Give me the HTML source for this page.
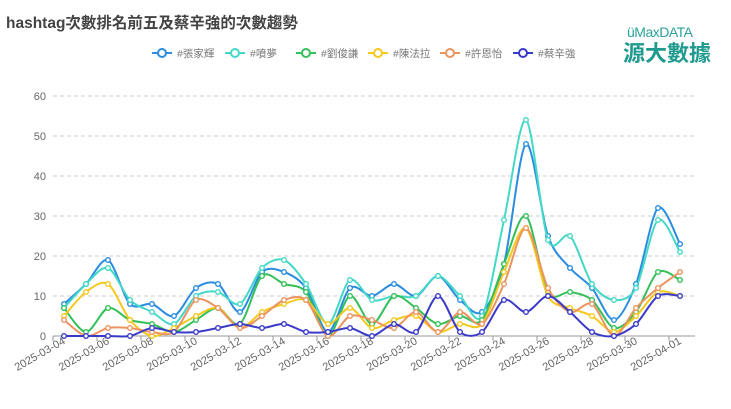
<!DOCTYPE html>
<html><head><meta charset="utf-8"><style>
body{margin:0;background:#fff;}
svg{display:block;font-family:"Liberation Sans","Noto Sans CJK TC",sans-serif;}
</style></head><body>
<svg id="s" width="731" height="409" xmlns="http://www.w3.org/2000/svg">
<rect width="731" height="409" fill="#fff"/>
<text x="6" y="28" font-size="15.5" font-weight="bold" fill="#444">hashtag次數排名前五及蔡辛強的次數趨勢</text>
<text x="627" y="37" font-size="14" fill="#2aa39a" letter-spacing="-0.5">üMaxDATA</text>
<text x="623" y="61" font-size="22" font-weight="bold" fill="#1f9a8f" font-family="'Noto Sans CJK TC',sans-serif">源大數據</text>
<g id="g"></g>
</svg>
<script>
const g=document.getElementById('g');
let h='';
for(let k=0;k<=6;k++){const y=336-40*k;
 if(k>0)h+=`<line x1="53" x2="695" y1="${y}" y2="${y}" stroke="#ccc" stroke-dasharray="4,3"/>`;
 h+=`<text x="46" y="${y+4}" font-size="11" fill="#666" text-anchor="end">${k*10}</text>`;}
h+=`<line x1="53" x2="695" y1="336" y2="336" stroke="#999"/>`;
const dates=[];
for(let i=0;i<29;i++){const d=new Date(2025,2,4+i);dates.push(`2025-${String(d.getMonth()+1).padStart(2,'0')}-${String(d.getDate()).padStart(2,'0')}`);}
for(let i=0;i<29;i+=2){const tx=53+22*i;h+=`<line x1="${tx}" x2="${tx}" y1="336" y2="341" stroke="#999"/>`;
 const x=64+22*i;h+=`<text transform="translate(${x+2},343) rotate(-30)" font-size="11" fill="#666" text-anchor="end">${dates[i]}</text>`;}
const S=[
['#張家輝','#2a8de0',[8,13,19,8,8,5,12,13,6,16,16,12,1,12,10,13,10,15,9,6,18,48,25,17,12,4,13,32,23]],
['#噴夢','#45d8c8',[7,13,17,9,6,3,10,11,8,17,19,13,3,14,9,10,10,15,10,5,29,54,24,25,13,9,12,29,21]],
['#劉俊謙','#34c05a',[7,1,7,4,3,1,4,7,3,15,13,11,0,10,3,10,7,3,5,4,18,30,11,11,9,2,6,16,14]],
['#陳法拉','#f5c81e',[5,11,13,4,0,2,5,7,2,6,8,9,3,7,2,4,5,1,3,3,16,27,10,7,5,1,5,11,10]],
['#許恩怡','#eb9460',[4,0,2,2,1,1,9,7,2,5,9,9,0,5,4,2,6,1,6,3,13,27,12,6,8,0,7,12,16]],
['#蔡辛強','#3a3ac8',[0,0,0,0,2,1,1,2,3,2,3,1,1,2,0,3,1,10,1,1,9,6,10,6,1,0,3,10,10]]];
S.forEach(([n,c,d])=>{
 const p=d.map((v,i)=>[64+22*i,336-4*v]);
 let path=`M${p[0][0]},${p[0][1]}`;
 for(let i=0;i<p.length-1;i++){const p0=p[Math.max(0,i-1)],p1=p[i],p2=p[i+1],p3=p[Math.min(p.length-1,i+2)];const t=0.3;
  path+=`C${p1[0]+(p2[0]-p0[0])*t/2},${p1[1]+(p2[1]-p0[1])*t/2} ${p2[0]-(p3[0]-p1[0])*t/2},${p2[1]-(p3[1]-p1[1])*t/2} ${p2[0]},${p2[1]}`;}
 h+=`<path d="${path}" fill="none" stroke="${c}" stroke-width="2"/>`;
 p.forEach(q=>h+=`<circle cx="${q[0]}" cy="${q[1]}" r="2.3" fill="#fff" stroke="${c}" stroke-width="1.4"/>`);
});
const LX=[152,225,296,368,440,513];
S.forEach(([n,c],i)=>{const lx=LX[i];h+=`<line x1="${lx}" x2="${lx+20}" y1="53" y2="53" stroke="${c}" stroke-width="2"/><circle cx="${lx+10}" cy="53" r="4" fill="#fff" stroke="${c}" stroke-width="2"/><text x="${lx+25}" y="57" font-size="10.5" fill="#777">${n}</text>`;});
g.innerHTML=h;
</script>
</body></html>
